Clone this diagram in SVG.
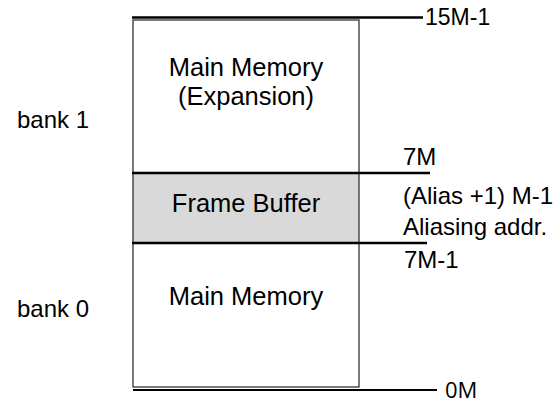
<svg xmlns="http://www.w3.org/2000/svg" width="560" height="406" viewBox="0 0 560 406">
<style>
text{font-family:"Liberation Sans",Arial,sans-serif;font-size:24px;fill:#000}
.c{text-anchor:middle;font-size:25.5px}
.box{stroke:#333;stroke-width:1.3}
.ln{stroke:#000;stroke-width:2.5;fill:none}
</style>
<rect width="560" height="406" fill="#fff"/>
<g id="expansion">
<rect class="box" x="133" y="20" width="226" height="153" fill="#fff"/>
<text class="c" x="246" y="76">Main Memory</text>
<text class="c" x="246" y="105">(Expansion)</text>
</g>
<g id="framebuffer">
<rect class="box" x="133" y="173" width="226" height="70" fill="#d9d9d9"/>
<text class="c" x="246" y="212">Frame Buffer</text>
</g>
<g id="main">
<rect class="box" x="133" y="243" width="226" height="144" fill="#fff"/>
<text class="c" x="246" y="305">Main Memory</text>
</g>
<g id="connectors">
<line class="ln" x1="132" y1="17.5" x2="423" y2="17.5"/>
<line class="ln" x1="132" y1="173" x2="430" y2="173"/>
<line class="ln" x1="132" y1="243" x2="427" y2="243"/>
<line class="ln" x1="133" y1="390" x2="437" y2="390" style="stroke-width:2"/>
</g>
<g id="labels">
<text x="17" y="128">bank 1</text>
<text x="17" y="317">bank 0</text>
<text x="425" y="25" style="font-size:23px">15M-1</text>
<text x="403" y="165">7M</text>
<text x="403" y="204">(Alias +1) M-1</text>
<text x="403" y="235">Aliasing addr.</text>
<text x="404" y="268">7M-1</text>
<text x="445" y="398" style="font-family:'Open Sans','Liberation Sans',sans-serif;font-size:22px">0M</text>
</g>
</svg>
